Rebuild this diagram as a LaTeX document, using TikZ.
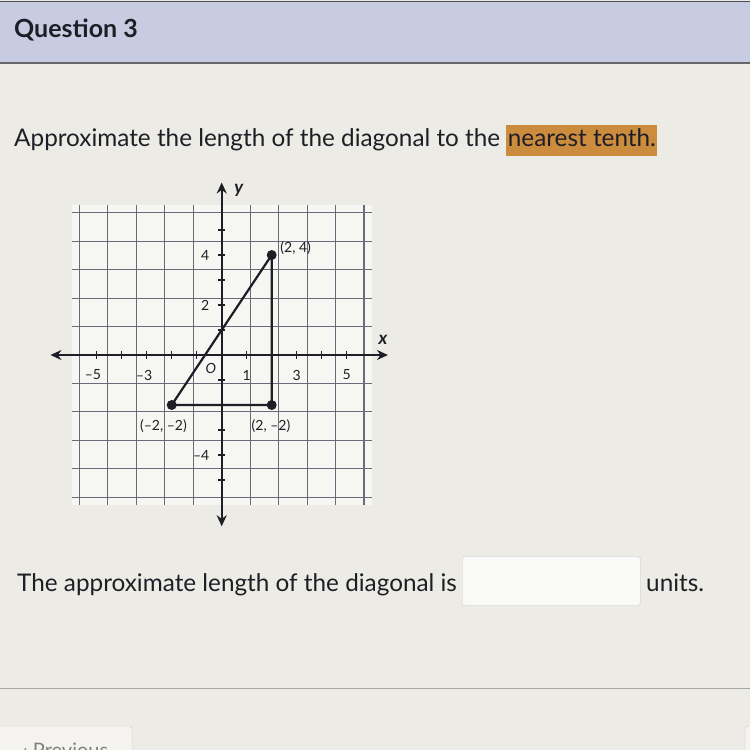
\documentclass[tikz,border=0pt]{standalone}
\usepackage{fontspec}
\setmainfont{Lato}
\usepackage{xcolor}
\usetikzlibrary{arrows.meta}
\usetikzlibrary{positioning}

\definecolor{pagebg}{RGB}{236,235,229}
\definecolor{headbg}{RGB}{199,204,226}
\definecolor{marker}{RGB}{204,140,62}
\definecolor{inkdark}{RGB}{30,31,38}
\definecolor{gridgray}{RGB}{105,107,120}
\definecolor{boxgray}{RGB}{200,200,200}

\tikzset{
	gridline/.style={draw=gridgray, line width=1.1pt},
	axisline/.style={draw=inkdark, line width=2.1pt, {Stealth[length=11pt,width=10pt]}-{Stealth[length=11pt,width=10pt]}},
	tickmark/.style={draw=inkdark, line width=1.3pt},
	legline/.style={draw=inkdark, line width=2.2pt, line join=round},
	vertex/.style={circle, fill=inkdark, inner sep=0pt, minimum size=10pt},
	ticklabel/.style={font=\fontsize{14}{16}\selectfont, text=inkdark, inner sep=1pt},
	axislabel/.style={font=\bfseries\itshape\fontsize{18}{20}\selectfont, text=inkdark, inner sep=1pt},
	bodytext/.style={font=\fontsize{24.3}{28}\selectfont, text=inkdark, inner sep=0pt},
}

\begin{document}
\begin{tikzpicture}[x=1pt, y=-1pt]
	% page and header band
	\fill[pagebg] (0,0) rectangle (750,750);
	\useasboundingbox (0,0) rectangle (750,750);
	\fill[headbg] (0,2) rectangle (750,63);
	\draw[gray!60!black, line width=1.2pt] (0,1.5) -- (750,1.5);
	\draw[gray!80!black, line width=1.2pt] (0,63) -- (750,63);
	\node[bodytext, anchor=base west, font=\bfseries\fontsize{25}{28}\selectfont] (title) at (14,37) {Question 3};
	\node[bodytext, anchor=base west] (prompt) at (14,146) {Approximate the length of the diagonal to the {\setlength\fboxsep{1.5pt}\colorbox{marker}{\strut nearest tenth.}}};

	% coordinate grid
	\begin{scope}[shift={(221.7,355)}, x=25pt, y=25pt]
		\fill[white!55!pagebg] (-6,-6) rectangle (6,6);
		\draw[gridline] (-6,-6) grid (6,6);
		\foreach \i in {-5,...,-1,1,2,...,5} {
			\draw[tickmark] (\i,-0.15) -- (\i,0.15);
			\draw[tickmark] (-0.15,\i) -- (0.15,\i);
		}
		\coordinate (xleft) at (-6.85,0);
		\coordinate (xright) at (6.65,0);
		\coordinate (ybottom) at (0,-6.85);
		\coordinate (ytop) at (0,6.9);
		\draw[axisline] (xleft) -- (xright);
		\draw[axisline] (ybottom) -- (ytop);
		\node[axislabel] (xname) at (6.45,0.6) {x};
		\node[axislabel] (yname) at (0.68,6.6) {y};
		% axis numbers
		\foreach \v/\t in {-5.15/–5, -3.1/–3, 1/1, 3/3, 5/5}
			\node[ticklabel] at (\v,-0.8) {\t};
		\node[ticklabel, font=\itshape\fontsize{14}{16}\selectfont] (origin) at (-0.43,-0.55) {O};
		\node[ticklabel, anchor=east] (ytick4) at (-0.45,4) {4};
		\node[ticklabel, anchor=east] (ytick2) at (-0.45,2) {2};
		\node[ticklabel, anchor=east] (ytickm4) at (-0.45,-4) {–4};
		% triangle
		\node[vertex] (ptA) at (-2,-2) {};
		\node[vertex] (ptB) at (2,-2) {};
		\node[vertex] (ptC) at (2,4) {};
		\draw[legline] (ptA.center) -- (ptB.center) -- (ptC.center) -- cycle;
		\node[ticklabel] (labA) at (-2.33,-2.84) {(–2, –2)};
		\node[ticklabel] (labB) at (1.97,-2.84) {(2, –2)};
		\node[ticklabel] (labC) at (2.96,4.27) {(2, 4)};
	\end{scope}

	% answer line
	\node[bodytext, anchor=base west] (answer) at (17,591) {The approximate length of the diagonal is};
	\node[draw=boxgray, fill=white!70!pagebg, rounded corners=2pt, minimum width=178pt, minimum height=49pt, anchor=west] (blank) at (462,581) {};
	\node[bodytext, anchor=base west] (units) at (646,591) {units.};

	% footer
	\draw[gray!70, line width=1pt] (0,688) -- (750,688);
	\draw[draw=boxgray, fill=white!40!pagebg, rounded corners=3pt] (-5,726) rectangle (132,770);
	\node[bodytext, anchor=base west, text=gray, font=\fontsize{20}{24}\selectfont] (previous) at (22,757) {‹ Previous};
	\draw[draw=boxgray, fill=white!40!pagebg, rounded corners=3pt] (745,726) rectangle (770,770);
\end{tikzpicture}
\end{document}
